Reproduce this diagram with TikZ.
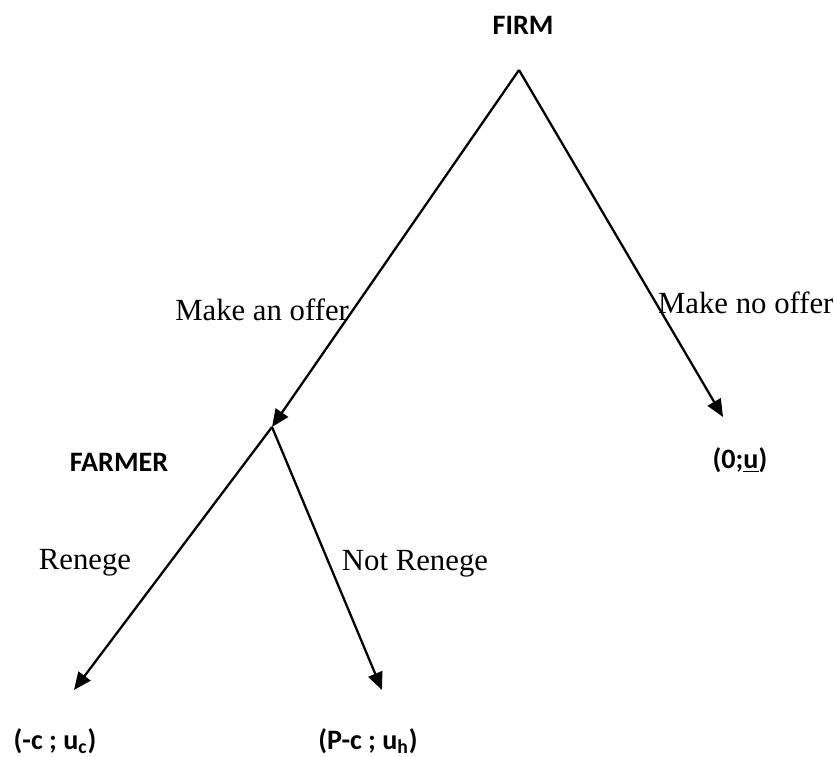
\documentclass[tikz,border=0pt]{standalone}
\usepackage{fontspec}
\setmainfont{Liberation Serif}
\newfontfamily\calib{Carlito}
\usetikzlibrary{arrows.meta}
\tikzset{
  move/.style={-{Triangle[length=10pt,width=8.5pt]}, line width=1.3pt},
  player/.style={font=\calib\bfseries\fontsize{16}{18}\selectfont},
  payoff/.style={font=\calib\bfseries\fontsize{16}{18}\selectfont},
  act/.style={font=\fontsize{17.5}{20}\selectfont, inner sep=1pt},
}

\begin{document}
\begin{tikzpicture}
  \useasboundingbox (0,0) rectangle (16.68,-15.12);
  % decision points and end points of the game tree
  \coordinate (firm) at (10.38,-1.40);
  \coordinate (farm) at (5.44,-8.54);
  \coordinate (noff) at (14.46,-8.34);
  \coordinate (ren) at (1.48,-13.80);
  \coordinate (nren) at (7.64,-13.80);
  \draw[move] (firm) -- (farm);
  \draw[move] (firm) -- (noff);
  \draw[move] (farm) -- (ren);
  \draw[move] (farm) -- (nren);
  % players
  \node[player] (firmlab) at (10.46,-0.50) {FIRM};
  \node[player] (farmlab) at (2.38,-9.24) {FARMER};
  % actions
  \node[act, anchor=east] (offer) at (7.02,-6.20) {Make an offer};
  \node[act, anchor=west] (nooffer) at (13.12,-6.05) {Make no offer};
  \node[act] (renege) at (1.70,-11.26) {Renege};
  \node[act] (notrenege) at (8.30,-11.28) {Not Renege};
  % payoffs
  \node[payoff] (p0) at (14.80,-9.20) {(0;\underline{u})};
  \node[payoff] (p1) at (1.10,-14.82) {(-c ; u\textsubscript{c})};
  \node[payoff] (p2) at (7.36,-14.82) {(P-c ; u\textsubscript{h})};
\end{tikzpicture}
\end{document}
